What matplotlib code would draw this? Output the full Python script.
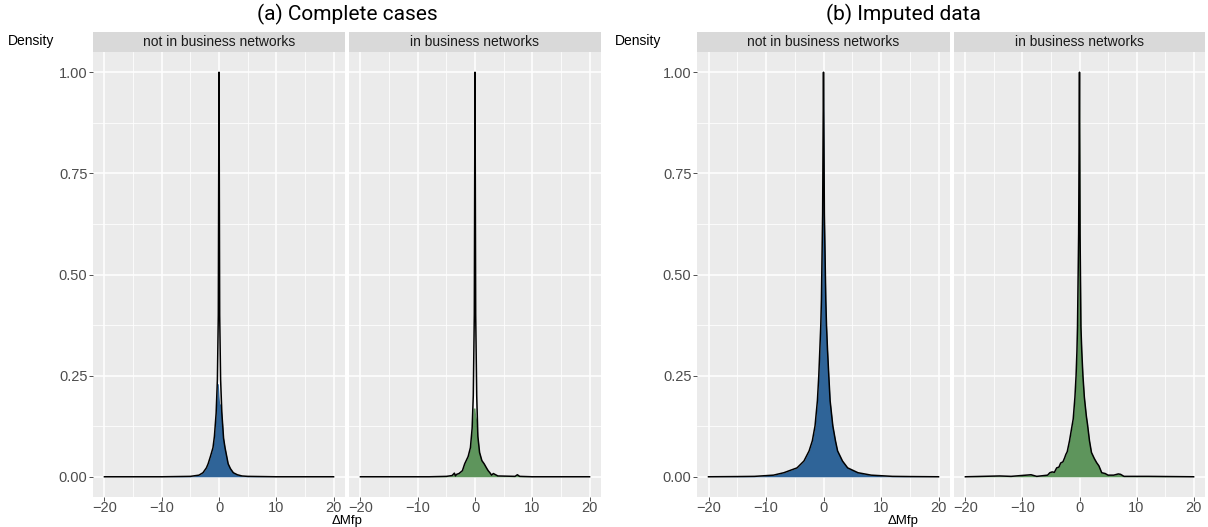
import numpy as np
from matplotlib import pyplot as plt

W, H = 1208, 527

BLUE = "#2F6498"
GREEN = "#5E955C"

facets = ["not in business networks", "in business networks"]
titles = ["(a) Complete cases", "(b) Imputed data"]
y_ticks = [0.0, 0.25, 0.5, 0.75, 1.0]
y_labels = ["0.00", "0.25", "0.50", "0.75", "1.00"]
x_ticks = [-20, -10, 0, 10, 20]
x_labels = ["\u221220", "\u221210", "0", "10", "20"]

# (a) complete cases, not in business networks
a1_x = [-20, -10, -5, -3.5, -2.8, -2.2, -1.9, -1.5, -1.05, -0.8, -0.5, -0.28, -0.12, 0,
        0.12, 0.28, 0.5, 0.8, 1.05, 1.6, 2.0, 2.5, 3.2, 4, 5, 10, 20]
a1_line = [0, 0, 0.001, 0.004, 0.01, 0.022, 0.032, 0.05, 0.072, 0.1, 0.157, 0.24, 0.4, 1.0,
           0.4, 0.24, 0.157, 0.095, 0.072, 0.032, 0.02, 0.01, 0.005, 0.002, 0.001, 0, 0]
a1_fill = [0, 0, 0.001, 0.004, 0.01, 0.022, 0.032, 0.05, 0.072, 0.1, 0.157, 0.23, 0.23, 0.2,
           0.18, 0.18, 0.157, 0.095, 0.072, 0.032, 0.02, 0.01, 0.005, 0.002, 0.001, 0, 0]

# (a) complete cases, in business networks
a2_x = [-20, -8, -5, -4, -3.6, -3.4, -3.2, -2.8, -2.2, -1.8, -1.2, -0.8, -0.5, -0.3, -0.12, 0,
        0.12, 0.3, 0.5, 0.8, 1.2, 1.6, 2.0, 2.3, 2.6, 2.9, 3.2, 4, 7, 7.4, 7.8, 10, 20]
a2_line = [0, 0, 0.001, 0.003, 0.009, 0.002, 0.006, 0.008, 0.015, 0.032, 0.05, 0.072, 0.12,
           0.2, 0.4, 1.0, 0.4, 0.2, 0.1, 0.06, 0.04, 0.032, 0.022, 0.015, 0.01, 0.004, 0.008,
           0.002, 0.001, 0.005, 0.001, 0, 0]
a2_fill = [0, 0, 0.001, 0.003, 0.009, 0.002, 0.006, 0.008, 0.015, 0.032, 0.05, 0.072, 0.12,
           0.17, 0.17, 0.17, 0.15, 0.14, 0.1, 0.06, 0.04, 0.032, 0.022, 0.015, 0.01, 0.004, 0.008,
           0.002, 0.001, 0.005, 0.001, 0, 0]

# (b) imputed data, not in business networks
b1_x = [-20, -15, -12, -8.7, -6.9, -4.6, -3.4, -2.5, -1.94, -1.47, -1.06, -0.82, -0.64, -0.47,
        -0.36, -0.15, -0.05, 0, 0.05, 0.15, 0.4, 0.52, 0.7, 0.92, 1.15, 1.62, 2.08, 2.45, 3.3,
        4.2, 6, 8.3, 12, 15, 20]
b1_line = [0, 0.0005, 0.001, 0.004, 0.01, 0.022, 0.039, 0.064, 0.089, 0.126, 0.188, 0.25,
           0.313, 0.375, 0.437, 0.65, 0.9, 1.0, 0.9, 0.65, 0.437, 0.375, 0.313, 0.25, 0.188,
           0.126, 0.089, 0.064, 0.039, 0.022, 0.01, 0.004, 0.001, 0.0005, 0]

# (b) imputed data, in business networks
b2_x = [-20, -14, -12, -8.5, -7.5, -5.6, -5.2, -4.8, -4.4, -4.0, -3.6, -3.3, -2.9, -2.6, -2.4,
        -2.15, -1.75, -1.45, -1.1, -0.8, -0.6, -0.45, -0.35, -0.15, 0, 0.1, 0.25, 0.4, 0.6,
        0.85, 1.05, 1.2, 1.4, 1.75, 2.1, 2.6, 3.0, 3.4, 3.9, 4.5, 5, 6, 6.8, 7.2, 7.8, 9, 12, 20]
b2_line = [0, 0.002, 0.001, 0.005, 0.001, 0.004, 0.01, 0.012, 0.011, 0.022, 0.024, 0.034,
           0.037, 0.047, 0.055, 0.062, 0.089, 0.114, 0.143, 0.197, 0.25, 0.31, 0.37, 0.6, 1.0,
           0.6, 0.37, 0.31, 0.25, 0.197, 0.17, 0.15, 0.13, 0.089, 0.06, 0.045, 0.035, 0.027,
           0.01, 0.008, 0.004, 0.004, 0.007, 0.006, 0.001, 0.001, 0.001, 0]

panels = [
    (a1_x, a1_line, a1_x, a1_fill, BLUE),
    (a2_x, a2_line, a2_x, a2_fill, GREEN),
    (b1_x, b1_line, b1_x, b1_line, BLUE),
    (b2_x, b2_line, b2_x, b2_line, GREEN),
]
panel_px = [(93, 345), (349, 601), (697, 950), (954, 1205)]
TOP, BOTTOM, STRIP_TOP = 52, 497, 32

plt.rcParams["font.family"] = ["Liberation Sans", "DejaVu Sans"]

fig = plt.figure(figsize=(W / 100, H / 100), dpi=100)


def px_axes(left, top, right, bottom):
    return fig.add_axes([left / W, 1 - bottom / H, (right - left) / W, (bottom - top) / H])


for i, ((lx, ly, fx, fy, col), (l, r)) in enumerate(zip(panels, panel_px)):
    ax = px_axes(l, TOP, r, BOTTOM)
    ax.set_facecolor("#EBEBEB")
    ax.set_xlim(-22, 22)
    ax.set_ylim(-0.05, 1.05)
    ax.set_xticks(x_ticks)
    ax.set_xticks([-15, -5, 5, 15], minor=True)
    ax.set_yticks(y_ticks)
    ax.set_yticks([0.125, 0.375, 0.625, 0.875], minor=True)
    ax.grid(which="major", color="white", lw=1.1)
    ax.grid(which="minor", color="white", lw=0.55)
    ax.set_axisbelow(True)
    for s in ax.spines.values():
        s.set_visible(False)
    ax.fill_between(fx, 0, fy, color=col, lw=0)
    ax.plot(lx, ly, color="black", lw=1.1)
    ax.set_xticklabels(x_labels)
    ax.tick_params(which="major", length=3, width=0.6, color="#333333",
                   labelsize=10.5, labelcolor="#4D4D4D", pad=1)
    ax.tick_params(axis="x", which="major", pad=0)
    ax.tick_params(which="minor", length=0)
    if i % 2 == 0:
        ax.set_yticklabels(y_labels)
    else:
        ax.tick_params(axis="y", which="major", length=0, labelleft=False)

    sax = px_axes(l, STRIP_TOP, r, TOP)
    sax.set_facecolor("#D9D9D9")
    sax.set_xticks([])
    sax.set_yticks([])
    for s in sax.spines.values():
        s.set_visible(False)
    sax.text(0.5, 0.5, facets[i % 2], ha="center", va="center", fontsize=10,
             color="#1A1A1A", transform=sax.transAxes)

for k, cx in enumerate([347, 903]):
    fig.text(cx / W, 1 - 14 / H, titles[k], ha="center", va="center", fontsize=15,
             family=["Roboto", "DejaVu Sans"], color="black")
    fig.text(cx / W, 1 - 515 / H, "\u0394Mfp", ha="center", va="top", fontsize=9.5,
             color="black")
    dx = 8 if k == 0 else 615
    fig.text(dx / W, 1 - 41 / H, "Density", ha="left", va="center", fontsize=10,
             color="black")

fig.savefig("out.png", dpi=100)
